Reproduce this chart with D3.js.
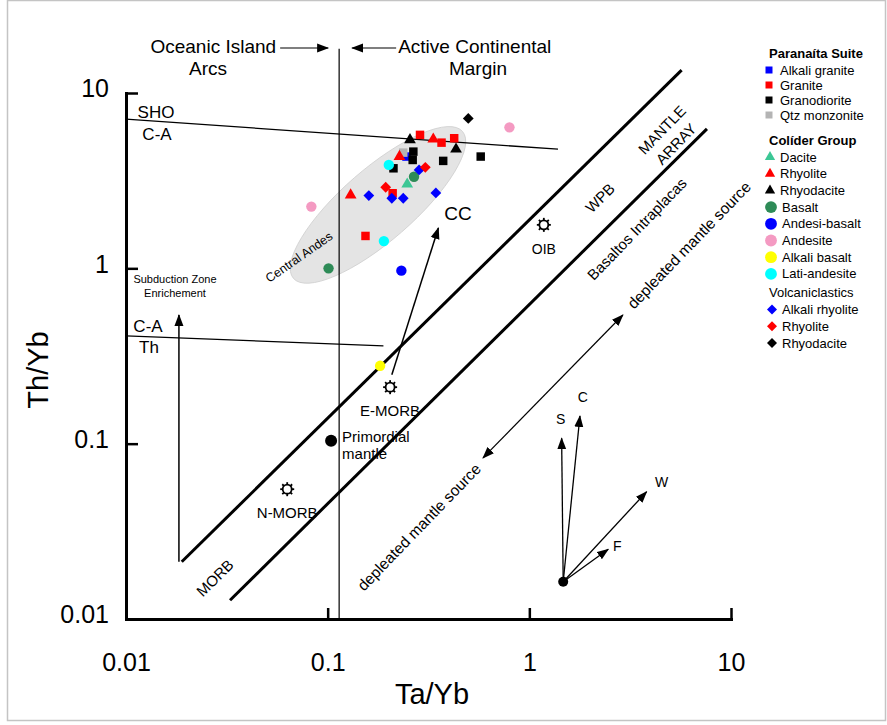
<!DOCTYPE html>
<html>
<head>
<meta charset="utf-8">
<script src="https://cdn.jsdelivr.net/npm/d3@7"></script>
<style>
body { margin: 0; background: #fff; }
svg { display: block; font-family: "Liberation Sans", Arial, sans-serif; }
</style>
</head>
<body>
<svg id="chart"></svg>
<script>
// Paranaíta Suite  [Ta/Yb, Th/Yb]
const alkaliGranite = [[0.246, 4.34]];
const qtzMonzonite = [[0.237, 4.57]];
const granite = [[0.287, 5.77], [0.367, 5.21], [0.424, 5.52], [0.210, 2.68], [0.154, 1.53]];
const granodiorite = [[0.266, 4.63], [0.264, 4.15], [0.374, 4.10], [0.574, 4.34], [0.212, 3.72]];
// Colíder Group
const dacite = [[0.248, 3.02]];
const rhyolite = [[0.334, 5.45], [0.227, 4.34], [0.130, 2.62]];
const rhyodacite = [[0.256, 5.40], [0.433, 4.78]];
const basalt = [[0.268, 3.33], [0.101, 1.00]];
const andesiBasalt = [[0.232, 0.97]];
const andesite = [[0.797, 6.37], [0.083, 2.25]];
const alkaliBasalt = [[0.182, 0.278]];
const latiAndesite = [[0.201, 3.89], [0.190, 1.43]];
// Volcaniclastics
const vAlkaliRhyolite = [[0.284, 3.64], [0.160, 2.60], [0.208, 2.51], [0.237, 2.51], [0.344, 2.69]];
const vRhyolite = [[0.305, 3.77], [0.194, 2.90]];
const vRhyodacite = [[0.498, 7.16]];

// reference compositions
const refNames = ['OIB', 'E-MORB', 'N-MORB'];
const refTaYb = [1.18, 0.204, 0.063];
const refThYb = [1.77, 0.210, 0.055];
const primordialMantle = [0.104, 0.104];

// field boundaries
const shoLine = [[0.01, 7.09], [1.387, 4.78]];
const thLine = [[0.01, 0.412], [0.189, 0.361]];
const mantleUpper = [[0.0189, 0.0212], [5.69, 13.5]];
const mantleLower = [[0.0328, 0.0128], [7.60, 6.24]];
const arcDivide = [[0.114, 0.01], [0.114, 17.9]];
const centralAndesCentre = [0.1776, 2.30];

// trend arrows
const subductionArrow = [[0.0183, 0.0212], [0.0183, 0.542]];
const ccArrow = [[0.208, 0.247], [0.354, 1.70]];
const depletedArrow = [[0.589, 0.0829], [2.91, 0.542]];
const vectorOrigin = [1.472, 0.01632];
const vectorNames = ['S', 'C', 'W', 'F'];
const vectorTips = [[1.446, 0.1073], [1.782, 0.1439], [3.815, 0.0532], [2.461, 0.02498]];

const tickValues = [0.01, 0.1, 1, 10];
const tickLabels = ['0.01', '0.1', '1', '10'];

const legendGroups = [
    {title: 'Paranaíta Suite', bold: true, items: [
        ['Alkali granite', 'square', '#0000ff', alkaliGranite],
        ['Granite', 'square', '#ff0000', granite],
        ['Granodiorite', 'square', '#000000', granodiorite],
        ['Qtz monzonite', 'square', '#b4b4b4', qtzMonzonite]]},
    {title: 'Colíder Group', bold: true, items: [
        ['Dacite', 'triangle', '#3cc795', dacite],
        ['Rhyolite', 'triangle', '#ff0000', rhyolite],
        ['Rhyodacite', 'triangle', '#000000', rhyodacite],
        ['Basalt', 'circle', '#2e8b57', basalt],
        ['Andesi-basalt', 'circle', '#0000ff', andesiBasalt],
        ['Andesite', 'circle', '#f49ac2', andesite],
        ['Alkali basalt', 'circle', '#ffff00', alkaliBasalt],
        ['Lati-andesite', 'circle', '#00ffff', latiAndesite]]},
    {title: 'Volcaniclastics', bold: false, items: [
        ['Alkali rhyolite', 'diamond', '#0000ff', vAlkaliRhyolite],
        ['Rhyolite', 'diamond', '#ff0000', vRhyolite],
        ['Rhyodacite', 'diamond', '#000000', vRhyodacite]]}
];

const WIDTH = 887, HEIGHT = 725;
const svg = d3.select('#chart').attr('width', WIDTH).attr('height', HEIGHT);

const x = d3.scaleLog().domain([0.01, 10]).range([126, 731]);
const y = d3.scaleLog().domain([0.01, 10]).range([619, 93]);

// outer frame
svg.append('rect')
    .attr('x', 7.5).attr('y', 0.5).attr('width', 878).attr('height', 720)
    .attr('fill', 'none').attr('stroke', '#c4c4c4').attr('stroke-width', 1.5);

// arrow heads
const defs = svg.append('defs');
defs.append('marker')
    .attr('id', 'head')
    .attr('viewBox', '0 -5 12 10')
    .attr('refX', 11).attr('refY', 0)
    .attr('markerWidth', 12).attr('markerHeight', 10)
    .attr('markerUnits', 'userSpaceOnUse')
    .attr('orient', 'auto-start-reverse')
    .append('path').attr('d', 'M0,-4.5L12,0L0,4.5Z').attr('fill', '#000');

// Central Andes field
const ca = svg.append('g')
    .attr('transform', `translate(${x(centralAndesCentre[0])},${y(centralAndesCentre[1])}) rotate(-41)`);
ca.append('ellipse').attr('rx', 112).attr('ry', 36)
    .attr('fill', '#e4e4e4').attr('stroke', '#d0d0d0').attr('stroke-width', 0.8);

const line = d3.line().x(d => x(d[0])).y(d => y(d[1]));

function drawLine(pts, w) {
    return svg.append('path').attr('d', line(pts))
        .attr('fill', 'none').attr('stroke', '#000').attr('stroke-width', w);
}

drawLine(shoLine, 1.3);
drawLine(thLine, 1.3);
drawLine(arcDivide, 1.2);
drawLine(mantleUpper, 3);
drawLine(mantleLower, 3);
drawLine(subductionArrow, 1.5).attr('marker-end', 'url(#head)');
drawLine(ccArrow, 1.5).attr('marker-end', 'url(#head)');
drawLine(depletedArrow, 1.2).attr('marker-end', 'url(#head)').attr('marker-start', 'url(#head)');

// vectors
vectorTips.forEach((t, i) => {
    drawLine([vectorOrigin, t], 1.3).attr('marker-end', 'url(#head)');
});
svg.append('circle').attr('cx', x(vectorOrigin[0])).attr('cy', y(vectorOrigin[1])).attr('r', 5).attr('fill', '#000');
const vecLabelOff = [[-1, -14], [3, -14], [15, -5], [9, 2]];
vectorNames.forEach((n, i) => {
    svg.append('text').text(n)
        .attr('x', x(vectorTips[i][0]) + vecLabelOff[i][0])
        .attr('y', y(vectorTips[i][1]) + vecLabelOff[i][1])
        .attr('text-anchor', 'middle').attr('font-size', 14);
});

// axes
const xAxis = svg.append('g')
    .attr('transform', `translate(0,${y(0.01)})`)
    .call(d3.axisBottom(x).tickValues(tickValues).tickFormat((d, i) => tickLabels[i])
        .tickSize(-11).tickSizeOuter(0).tickPadding(34));
const yAxis = svg.append('g')
    .attr('transform', `translate(${x(0.01)},0)`)
    .call(d3.axisLeft(y).tickValues(tickValues).tickFormat((d, i) => tickLabels[i])
        .tickSize(-12).tickSizeOuter(0).tickPadding(17));
[xAxis, yAxis].forEach(a => {
    a.select('.domain').attr('stroke-width', 3).attr('stroke-linecap', 'square');
    a.selectAll('.tick line').attr('stroke-width', 2.5);
    a.selectAll('.tick text')
        .attr('font-family', '"Liberation Sans Narrow", "Arial Narrow", "Liberation Sans", sans-serif')
        .attr('font-size', 25).attr('fill', '#000');
});
yAxis.selectAll('.tick text').attr('dy', '0.15em');

svg.append('text').text('Ta/Yb')
    .attr('x', 432).attr('y', 704).attr('text-anchor', 'middle')
    .attr('font-family', '"Liberation Sans Narrow", "Arial Narrow", "Liberation Sans", sans-serif')
    .attr('font-size', 29);
svg.append('text').text('Th/Yb')
    .attr('transform', 'translate(48,370) rotate(-90)').attr('text-anchor', 'middle')
    .attr('font-family', '"Liberation Sans Narrow", "Arial Narrow", "Liberation Sans", sans-serif')
    .attr('font-size', 29);

// reference compositions
refNames.forEach((n, i) => {
    const g = svg.append('g').attr('transform', `translate(${x(refTaYb[i])},${y(refThYb[i])})`);
    d3.range(8).forEach(k => {
        const a = k * Math.PI / 4;
        g.append('line')
            .attr('x1', Math.cos(a) * 4).attr('y1', Math.sin(a) * 4)
            .attr('x2', Math.cos(a) * 7).attr('y2', Math.sin(a) * 7)
            .attr('stroke', '#000').attr('stroke-width', 1.8);
    });
    g.append('circle').attr('r', 4.5).attr('fill', '#fff').attr('stroke', '#000').attr('stroke-width', 1.8);
    g.append('text').text(n).attr('y', 29).attr('text-anchor', 'middle')
        .attr('font-size', i === 0 ? 14 : 15);
});
svg.append('circle')
    .attr('cx', x(primordialMantle[0])).attr('cy', y(primordialMantle[1])).attr('r', 6).attr('fill', '#000');
svg.append('text').text('Primordial')
    .attr('x', x(primordialMantle[0]) + 11).attr('y', y(primordialMantle[1]) + 1).attr('font-size', 15);
svg.append('text').text('mantle')
    .attr('x', x(primordialMantle[0]) + 11).attr('y', y(primordialMantle[1]) + 18).attr('font-size', 15);

// annotation text
function label(txt, px, py, size, rot, anchor) {
    const t = svg.append('text').text(txt).attr('font-size', size)
        .attr('text-anchor', anchor || 'middle');
    if (rot) {
        t.attr('transform', `translate(${px},${py}) rotate(${rot})`).attr('dy', '0.35em');
    } else {
        t.attr('x', px).attr('y', py);
    }
    return t;
}
const divX = x(arcDivide[0][0]);
label('Oceanic Island', divX - 63, 53, 19, 0, 'end');
label('Arcs', 208, 75, 19);
label('Active Continental', divX + 59, 53, 19, 0, 'start');
label('Margin', 478, 75, 19);
svg.append('path').attr('d', line([[0, 0], [0, 0]]))
    .attr('d', `M${divX - 59},48H${divX - 11}`).attr('stroke', '#000').attr('stroke-width', 1.2)
    .attr('marker-end', 'url(#head)');
svg.append('path')
    .attr('d', `M${divX + 57},48H${divX + 13}`).attr('stroke', '#000').attr('stroke-width', 1.2)
    .attr('marker-end', 'url(#head)');

label('SHO', 156, 118, 17);
label('C-A', 157, 140, 17);
label('C-A', 148, 332, 17);
label('Th', 149, 353, 17);
label('Subduction Zone', 175, 283, 11);
label('Enrichement', 175, 297, 11);
label('Central Andes', 299, 257, 12.5, -35);
label('CC', 458, 220, 19);
label('MORB', 215, 578, 15, -45);
label('WPB', 600, 198, 15, -45);
label('Basaltos Intraplacas', 637, 229, 15, -46);
label('MANTLE', 662, 130, 15, -46);
label('ARRAY', 676, 144, 15, -46);
label('depleated mantle source', 419, 527, 15.5, -46);
label('depleated mantle source', 689, 245, 15.5, -46);

// data points
function shapePath(shape, size) {
    const type = {square: d3.symbolSquare, triangle: d3.symbolTriangle,
        circle: d3.symbolCircle, diamond: d3.symbolSquare}[shape];
    return d3.symbol().type(type).size(size)();
}
const plotSize = {square: 72, triangle: 60, circle: 85, diamond: 58};
const legendSize = {square: 49, triangle: 46, circle: 110, diamond: 50};
const drawOrder = [0, 3, 1, 2];

const points = svg.append('g');
legendGroups.forEach((grp, gi) => {
    const order = gi === 0 ? drawOrder : grp.items.map((d, i) => i);
    order.forEach(i => {
        const [name, shape, color, data] = grp.items[i];
        points.selectAll(null)
            .data(data)
            .enter()
            .append('path')
            .attr('d', shapePath(shape, plotSize[shape]))
            .attr('transform', d => `translate(${x(d[0])},${y(d[1])})` + (shape === 'diamond' ? ' rotate(45)' : ''))
            .attr('fill', color);
    });
});

// legend
const legend = svg.append('g');
let ly = 53;
legendGroups.forEach((grp, gi) => {
    legend.append('text').text(grp.title)
        .attr('x', 769).attr('y', ly + 4.5)
        .attr('font-size', 13).attr('font-weight', grp.bold ? 'bold' : 'normal');
    ly += gi === 0 ? 17 : 17;
    grp.items.forEach(([name, shape, color]) => {
        const mx = {square: 769, triangle: 770, circle: 771, diamond: 772}[shape];
        legend.append('path')
            .attr('d', shapePath(shape, legendSize[shape]))
            .attr('transform', `translate(${mx},${ly})` + (shape === 'diamond' ? ' rotate(45)' : ''))
            .attr('fill', color);
        legend.append('text').text(name)
            .attr('x', shape === 'circle' || shape === 'diamond' ? 782 : 780)
            .attr('y', ly + 4.5).attr('font-size', 13);
        ly += gi === 0 ? 15 : 16.7;
    });
    ly += gi === 0 ? 10 : 2;
});
</script>
</body>
</html>
